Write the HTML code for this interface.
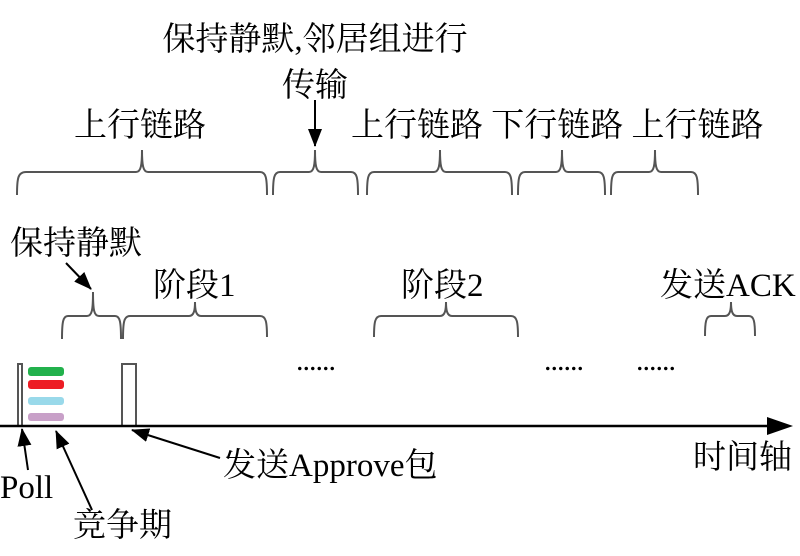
<!DOCTYPE html>
<html><head><meta charset="utf-8"><style>
html,body{margin:0;padding:0;background:#fff;}
svg text{font-family:"Liberation Serif","Noto Serif CJK SC",serif;fill:#000;}
</style></head><body>
<svg width="800" height="551" viewBox="0 0 800 551" xmlns="http://www.w3.org/2000/svg">
<defs>
<marker id="ah" markerWidth="18" markerHeight="14" refX="17" refY="7" orient="auto" markerUnits="userSpaceOnUse">
<path d="M0,0 L18,7 L0,14 z" fill="#000"/></marker>
</defs>
<g fill="none" stroke="#555" stroke-width="2">
<path d="M17,195 C17,178 18,172 26,172 L136,172 C141,172 142,165 142,150 C142,165 143,172 148,172 L260,172 C266,172 267,178 267,195"/>
<path d="M273,195 C273,178 274,172 280,172 L309,172 C314,172 315,165 315,150 C315,165 316,172 321,172 L351,172 C357,172 358,178 358,195"/>
<path d="M367,195 C367,178 368,172 374,172 L434,172 C439,172 440,165 440,150 C440,165 441,172 446,172 L505,172 C511,172 512,178 512,195"/>
<path d="M518,195 C518,178 519,172 525,172 L556,172 C561,172 562,165 562,150 C562,165 563,172 568,172 L598,172 C604,172 605,178 605,195"/>
<path d="M611,195 C611,178 612,172 618,172 L649,172 C654,172 655,165 655,150 C655,165 656,172 661,172 L691,172 C697,172 698,178 698,195"/>
<path d="M62,339 C62,322 63,316 68,316 L87,316 C92,316 93,310 93,292 C93,310 94,316 99,316 L115,316 C120,316 121,322 121,339"/>
<path d="M123,339 C123,322 124,316 130,316 L189,316 C194,316 195,310 195,302 C195,310 196,316 201,316 L260,316 C266,316 267,322 267,337"/>
<path d="M374,337 C374,322 375,316 381,316 L440,316 C445,316 446,310 446,302 C446,310 447,316 452,316 L511,316 C517,316 518,322 518,337"/>
<path d="M705,336 C705,322 706,316 711,316 L725,316 C730,316 731,310 731,302 C731,310 732,316 737,316 L749,316 C754,316 755,322 755,336"/>
<path d="M18,425 L18,364 L22,364 L22,425"/>
<path d="M122,425 L122,364 L136,364 L136,425"/>
</g>
<rect x="28" y="367" width="36" height="9" rx="3" fill="#22b14c"/>
<rect x="28" y="380" width="36" height="9" rx="3" fill="#ed1c24"/>
<rect x="28" y="397" width="36" height="8" rx="3" fill="#99d9ea"/>
<rect x="28" y="413" width="36" height="8" rx="3" fill="#c8a0c8"/>
<line x1="0" y1="426" x2="770" y2="426" stroke="#000" stroke-width="2.5"/>
<path d="M767,417 L793,426 L767,435 z" fill="#000"/>
<g stroke="#000" stroke-width="2">
<line x1="315" y1="100" x2="315" y2="146" marker-end="url(#ah)"/>
<line x1="66" y1="263" x2="91" y2="289" marker-end="url(#ah)"/>
<line x1="220" y1="458" x2="132" y2="430" marker-end="url(#ah)"/>
<line x1="28" y1="470" x2="22" y2="429" marker-end="url(#ah)"/>
<line x1="92" y1="510" x2="56" y2="431" marker-end="url(#ah)"/>
</g>
<g font-size="30" letter-spacing="-1"><text x="296" y="370">......</text><text x="544" y="370">......</text><text x="636" y="370">......</text></g>
<g font-size="33">
<text x="315" y="50" text-anchor="middle">保持静默,邻居组进行</text>
<text x="315" y="96" text-anchor="middle">传输</text>
<text x="140" y="136" text-anchor="middle">上行链路</text>
<text x="351" y="136">上行链路 下行链路 上行链路</text>
<text x="10" y="254">保持静默</text>
<text x="153" y="296">阶段1</text>
<text x="401" y="296">阶段2</text>
<text x="660" y="296">发送ACK</text>
<text x="223" y="476">发送Approve包</text>
<text x="693" y="468">时间轴</text>
<text x="0" y="498">Poll</text>
<text x="73" y="536">竞争期</text>
</g>
</svg>
</body></html>
